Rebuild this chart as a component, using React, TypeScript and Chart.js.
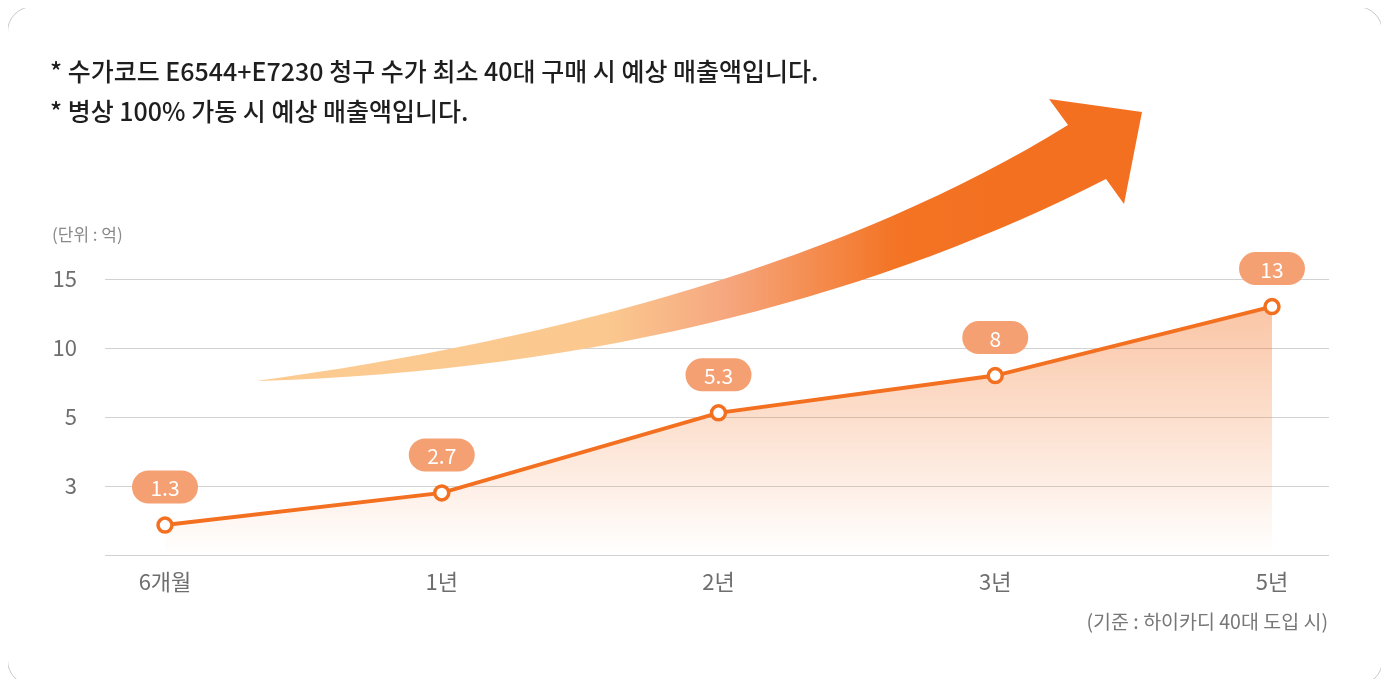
import React, { useEffect, useRef } from "react";
import { Chart, registerables, LinearScale } from "chart.js";

Chart.register(...registerables);

const TITLE_LINES = [
  "* 수가코드 E6544+E7230 청구 수가 최소 40대 구매 시 예상 매출액입니다.",
  "* 병상 100% 가동 시 예상 매출액입니다.",
];
const UNIT_LABEL = "(단위 : 억)";
const NOTE_LABEL = "(기준 : 하이카디 40대 도입 시)";
const categories = ["6개월", "1년", "2년", "3년", "5년"];
const revenue = [1.3, 2.7, 5.3, 8, 13];
const valueLabels = ["1.3", "2.7", "5.3", "8", "13"];
const yTicks = [0, 3, 5, 10, 15];
const yTickLabels = ["", "3", "5", "10", "15"];

const FONT = "'Noto Sans CJK KR', 'Noto Sans', sans-serif";
const ORANGE = "#f37021";
const PILL = "#f5a072";

function toFraction(v: number): number {
  const n = yTicks.length - 1;
  if (v <= yTicks[0]) return 0;
  for (let i = 1; i < yTicks.length; i++) {
    if (v <= yTicks[i]) {
      const a = yTicks[i - 1];
      const b = yTicks[i];
      return (i - 1 + (v - a) / (b - a)) / n;
    }
  }
  return 1;
}
function fromFraction(f: number): number {
  const n = yTicks.length - 1;
  const p = Math.max(0, Math.min(n, f * n));
  const i = Math.min(n - 1, Math.floor(p));
  return yTicks[i] + (p - i) * (yTicks[i + 1] - yTicks[i]);
}

class SteppedScale extends LinearScale {
  static id = "stepped";
  static defaults = LinearScale.defaults;
  buildTicks() {
    return yTicks.map((value) => ({ value }));
  }
  getPixelForValue(value: any) {
    if (value === null || value === undefined || isNaN(value)) return NaN;
    return this.getPixelForDecimal(toFraction(+value));
  }
  getValueForPixel(pixel: number) {
    return fromFraction(this.getDecimalForPixel(pixel));
  }
}
Chart.register(SteppedScale as any);

const arrowPlugin = {
  id: "growthArrow",
  beforeDatasetsDraw(chart: any) {
    const ctx = chart.ctx;
    // canvas origin is at page (8,7)
    const ox = 8;
    const oy = 7;
    const P = (x: number, y: number): [number, number] => [x - ox, y - oy];
    ctx.save();
    const g = ctx.createLinearGradient(P(256, 0)[0], 0, P(1000, 0)[0], 0);
    g.addColorStop(0, "#fccb92");
    g.addColorStop(0.47, "#fbc990");
    g.addColorStop(0.63, "#f6a77f");
    g.addColorStop(0.86, "#f37424");
    g.addColorStop(1, ORANGE);
    ctx.fillStyle = g;
    ctx.beginPath();
    ctx.moveTo(...P(256, 381));
    ctx.bezierCurveTo(...P(560, 340), ...P(850, 260), ...P(1068, 125));
    ctx.lineTo(...P(1049, 99));
    ctx.lineTo(...P(1142, 112));
    ctx.lineTo(...P(1124, 204));
    ctx.lineTo(...P(1106, 179));
    ctx.bezierCurveTo(...P(890, 290), ...P(600, 372), ...P(256, 381));
    ctx.closePath();
    ctx.fill();
    ctx.restore();
  },
};

const pillPlugin = {
  id: "valuePills",
  afterDatasetsDraw(chart: any) {
    const ctx = chart.ctx;
    const meta = chart.getDatasetMeta(0);
    ctx.save();
    meta.data.forEach((pt: any, i: number) => {
      const cx = pt.x;
      const cy = pt.y - 38;
      const w = 66;
      const h = 33;
      ctx.fillStyle = PILL;
      ctx.beginPath();
      ctx.roundRect(cx - w / 2, cy - h / 2, w, h, h / 2);
      ctx.fill();
      ctx.fillStyle = "#ffffff";
      ctx.font = `400 21px ${FONT}`;
      ctx.textAlign = "center";
      ctx.textBaseline = "middle";
      ctx.fillText(valueLabels[i], cx, cy + 1);
    });
    ctx.restore();
  },
};

export default function App() {
  const ref = useRef<HTMLCanvasElement | null>(null);

  useEffect(() => {
    if (!ref.current) return;
    const chart = new Chart(ref.current, {
      type: "line",
      data: {
        datasets: [
          {
            data: revenue.map((v, i) => ({ x: i, y: v })),
            borderColor: ORANGE,
            borderWidth: 4,
            pointRadius: 7,
            pointBorderWidth: 3.5,
            pointBackgroundColor: "#ffffff",
            pointBorderColor: ORANGE,
            tension: 0,
            fill: "origin",
            clip: false as any,
            backgroundColor: (c: any) => {
              const area = c.chart.chartArea;
              if (!area) return "rgba(243,112,33,0.3)";
              const g = c.chart.ctx.createLinearGradient(0, area.top, 0, area.bottom);
              g.addColorStop(0, "rgba(243,112,33,0.45)");
              g.addColorStop(0.4, "rgba(243,112,33,0.27)");
              g.addColorStop(1, "rgba(243,112,33,0)");
              return g;
            },
          },
        ],
      },
      options: {
        responsive: false,
        animation: false,
        devicePixelRatio: 1,
        layout: { padding: { left: 40, right: 53, top: 272, bottom: 70 } },
        plugins: { legend: { display: false }, tooltip: { enabled: false } },
        scales: {
          x: {
            type: "linear",
            min: -0.2168,
            max: 4.206,
            afterBuildTicks: (s: any) => {
              s.ticks = categories.map((_, i) => ({ value: i }));
            },
            afterFit: (s: any) => {
              s.height = 60;
            },
            grid: { display: false, drawTicks: false },
            border: { display: false },
            ticks: {
              padding: 13,
              color: "#6e6e6e",
              font: { family: FONT, size: 22 },
              callback: (v: any) => categories[v] ?? "",
            },
          },
          y: {
            type: "stepped" as any,
            min: 0,
            max: 15,
            afterFit: (s: any) => {
              s.width = 57;
            },
            grid: { color: "#d2d2d2", lineWidth: 1, drawTicks: false },
            border: { display: false },
            ticks: {
              padding: 28,
              color: "#6e6e6e",
              font: { family: FONT, size: 22 },
              callback: (_v: any, i: number) => yTickLabels[i],
            },
          },
        },
      },
      plugins: [arrowPlugin, pillPlugin],
    } as any);
    return () => chart.destroy();
  }, []);

  return (
    <div
      style={{
        position: "relative",
        width: 1376,
        height: 680,
        marginLeft: -1,
        marginTop: -2,
        border: "1px solid #c9c9c9",
        borderRadius: 26,
        boxSizing: "border-box",
        overflow: "hidden",
        background: "#ffffff",
        fontFamily: FONT,
      }}
    >
      <canvas
        ref={ref}
        width={1374}
        height={678}
        style={{ position: "absolute", left: 0, top: 0, width: 1374, height: 678 }}
      />
      {TITLE_LINES.map((t, i) => (
        <div
          key={i}
          style={{
            position: "absolute",
            left: 42,
            top: 43 + i * 40,
            fontSize: 25,
            fontWeight: 500,
            lineHeight: "40px",
            color: "#1e1e1e",
            whiteSpace: "nowrap",
          }}
        >
          {t}
        </div>
      ))}
      <div
        style={{
          position: "absolute",
          left: 44,
          top: 216,
          fontSize: 17,
          lineHeight: "22px",
          color: "#8a8a8a",
          whiteSpace: "nowrap",
        }}
      >
        {UNIT_LABEL}
      </div>
      <div
        style={{
          position: "absolute",
          right: 54,
          top: 602,
          fontSize: 19.5,
          lineHeight: "24px",
          color: "#777777",
          whiteSpace: "nowrap",
        }}
      >
        {NOTE_LABEL}
      </div>
    </div>
  );
}
